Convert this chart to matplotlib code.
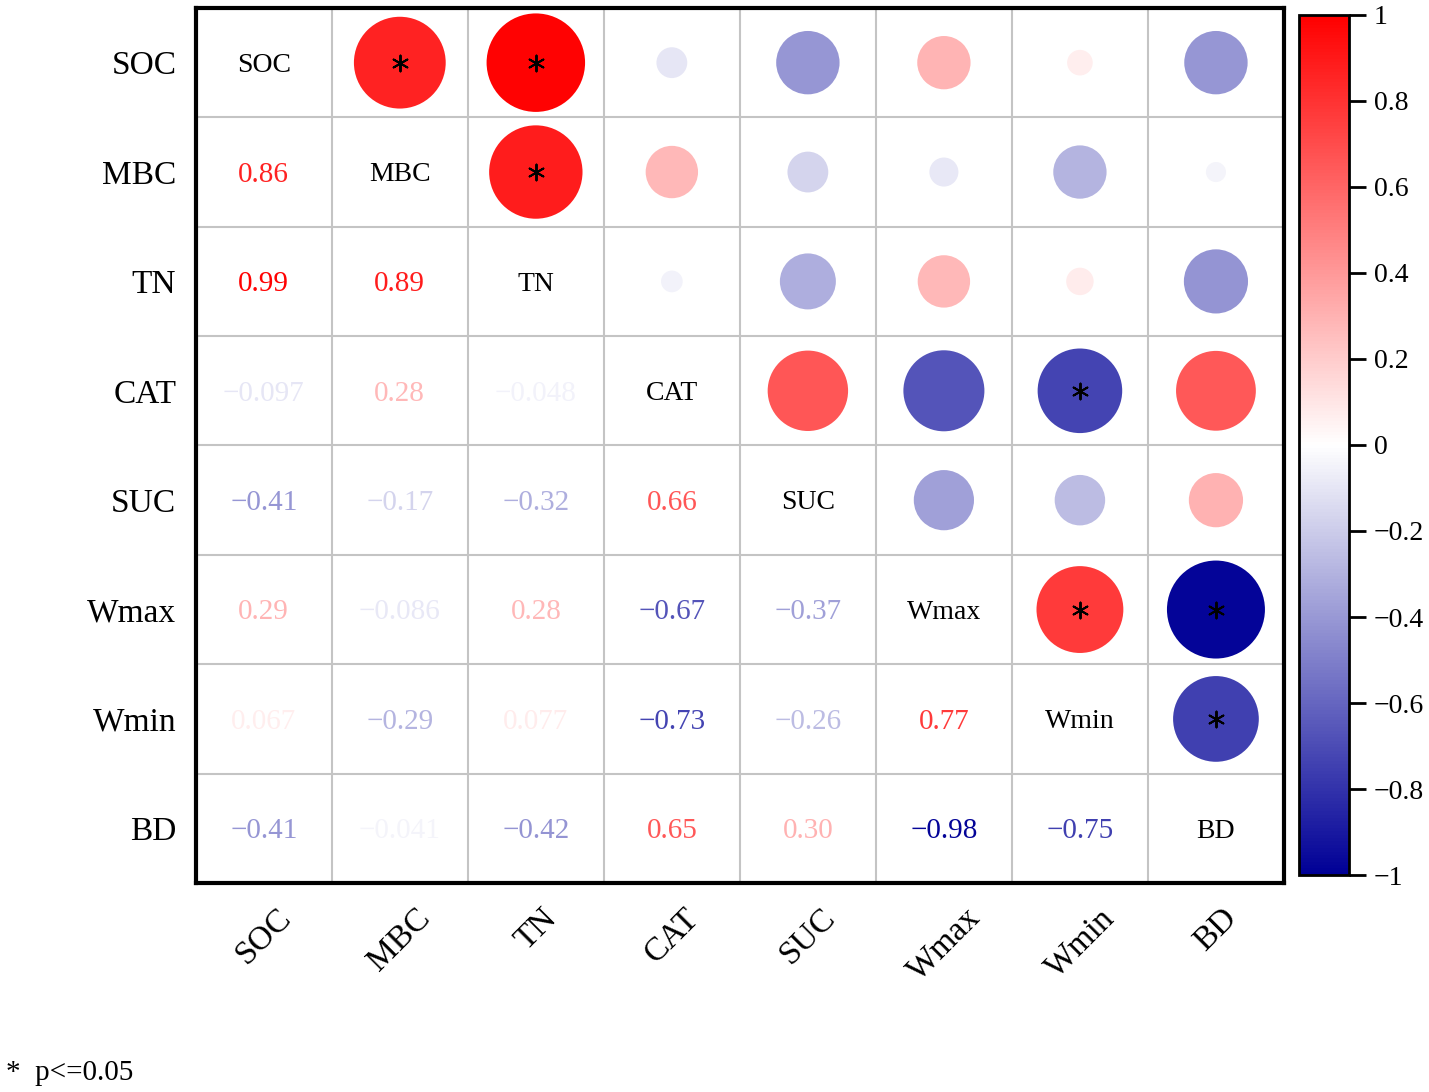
import numpy as np
import matplotlib
matplotlib.use("Agg")
import matplotlib.pyplot as plt
from matplotlib.colors import LinearSegmentedColormap, Normalize

# ---- data ----
variables = ["SOC", "MBC", "TN", "CAT", "SUC", "Wmax", "Wmin", "BD"]
r_MBC = [0.86]
r_TN = [0.99, 0.89]
r_CAT = [-0.097, 0.28, -0.048]
r_SUC = [-0.41, -0.17, -0.32, 0.66]
r_Wmax = [0.29, -0.086, 0.28, -0.67, -0.37]
r_Wmin = [0.067, -0.29, 0.077, -0.73, -0.26, 0.77]
r_BD = [-0.41, -0.041, -0.42, 0.65, 0.30, -0.98, -0.75]
significant_pairs = [("SOC", "MBC"), ("SOC", "TN"), ("MBC", "TN"),
                     ("CAT", "Wmin"), ("Wmax", "Wmin"), ("Wmax", "BD"),
                     ("Wmin", "BD")]
colorbar_ticks = [-1, -0.8, -0.6, -0.4, -0.2, 0, 0.2, 0.4, 0.6, 0.8, 1]
footnote = "*  p<=0.05"

lower_rows = [[], r_MBC, r_TN, r_CAT, r_SUC, r_Wmax, r_Wmin, r_BD]
n = len(variables)
R = np.eye(n)
for i, row in enumerate(lower_rows):
    for j, v in enumerate(row):
        R[i, j] = v
        R[j, i] = v
sig = np.zeros((n, n), dtype=bool)
for a, b in significant_pairs:
    i, j = variables.index(a), variables.index(b)
    sig[i, j] = sig[j, i] = True

FONT = ["Liberation Serif", "DejaVu Serif"]
plt.rcParams["font.family"] = FONT
plt.rcParams["axes.unicode_minus"] = True

cmap = LinearSegmentedColormap.from_list(
    "rwb", [(0.0, (0, 0, 150 / 255)), (0.5, (1, 1, 1)), (1.0, (1, 0, 0))])
norm = Normalize(vmin=-1, vmax=1)

W, H = 14.29, 10.92
fig = plt.figure(figsize=(W, H), dpi=100)
ax_l, ax_b, ax_r, ax_t = 0.137, 0.1914, 0.8985, 0.9927
ax = fig.add_axes([ax_l, ax_b, ax_r - ax_l, ax_t - ax_b])
ax.set_xlim(0, n)
ax.set_ylim(n, 0)

for k in range(1, n):
    ax.axhline(k, color="#c4c4c4", lw=1.5, zorder=0)
    ax.axvline(k, color="#c4c4c4", lw=1.5, zorder=0)

cell_h_pt = H * 72 * (ax_t - ax_b) / n


def fmt(v):
    s = f"{abs(v):.3f}" if abs(v) < 0.1 else f"{abs(v):.2f}"
    return ("\u2212" if v < 0 else "") + s


TXT_DY = 0.025
xs, ys, ss, cs = [], [], [], []
for i in range(n):
    for j in range(n):
        v = R[i, j]
        if i == j:
            ax.text(j + 0.5, i + 0.5 + TXT_DY, variables[i], ha="center",
                    va="center", fontsize=20, color="black")
        elif j < i:
            ax.text(j + 0.5, i + 0.5 + TXT_DY, fmt(v), ha="center",
                    va="center", fontsize=21, color=cmap(norm(v)))
        else:
            d = 0.905 * cell_h_pt * np.sqrt(abs(v))
            xs.append(j + 0.5); ys.append(i + 0.5); ss.append(d ** 2)
            cs.append(v)
ax.scatter(xs, ys, s=ss, c=cs, cmap=cmap, norm=norm, linewidths=0, zorder=2)

sx, sy = [], []
for i in range(n):
    for j in range(i + 1, n):
        if sig[i, j]:
            sx.append(j + 0.5); sy.append(i + 0.5)
ax.scatter(sx, sy, marker=(6, 2, 0), s=130, c="black", linewidths=1.4,
           zorder=3)

ax.set_xticks(np.arange(n) + 0.5)
ax.set_yticks(np.arange(n) + 0.5)
ax.set_xticklabels(variables, rotation=45, ha="center", va="top", fontsize=24)
ax.set_yticklabels(variables, fontsize=24)
ax.tick_params(axis="both", length=0)
ax.tick_params(axis="x", pad=14)
ax.tick_params(axis="y", pad=14)
for sp in ax.spines.values():
    sp.set_linewidth(3)
    sp.set_color("black")

cax = fig.add_axes([0.909, 0.1987, 0.944 - 0.909, 0.9863 - 0.1987])
sm = matplotlib.cm.ScalarMappable(norm=norm, cmap=cmap)
cb = fig.colorbar(sm, cax=cax, ticks=colorbar_ticks)
cb.ax.set_yticklabels([f"{t:g}".replace("-", "\u2212") for t in colorbar_ticks],
                      fontsize=20)
cb.ax.tick_params(length=12, width=2, direction="out", pad=6)
cb.outline.set_linewidth(2)

fig.text(0.004, 0.017, footnote, fontsize=21, ha="left", va="center")

fig.savefig("out.png", dpi=100)
